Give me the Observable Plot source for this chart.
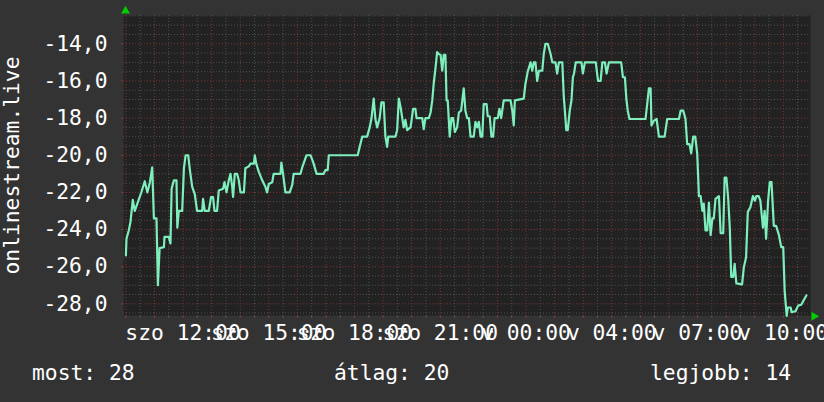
<!DOCTYPE html>
<html><head><meta charset="utf-8">
<script src="https://cdn.jsdelivr.net/npm/d3@7"></script>
<script src="https://cdn.jsdelivr.net/npm/@observablehq/plot@0.6"></script>
<style>
html,body{margin:0;padding:0;background:#333;overflow:hidden;}
#wrap{position:relative;width:824px;height:402px;background:#333;font-family:"DejaVu Sans Mono",monospace;color:#fff;}
.leg{position:absolute;top:362px;font-size:21.3px;line-height:21px;white-space:pre;}
</style></head><body><div id="wrap"></div>
<script>
// hours after Saturday 10:00
const hours = [0.00,0.02,0.10,0.16,0.24,0.31,0.40,0.54,0.66,0.75,0.84,0.92,0.98,1.07,1.12,1.18,1.33,1.35,1.50,1.56,
1.60,1.68,1.77,1.80,1.85,1.97,2.03,2.09,2.18,2.24,2.32,2.41,2.49,2.67,2.70,2.76,2.90,2.98,3.05,3.10,
3.19,3.25,3.40,3.45,3.52,3.60,3.66,3.72,3.75,3.81,3.89,3.95,4.01,4.13,4.18,4.30,4.36,4.48,4.51,4.56,
4.65,4.77,4.88,4.94,5.00,5.12,5.17,5.41,5.44,5.50,5.58,5.73,5.82,5.87,6.11,6.17,6.32,6.46,6.57,6.67,
6.92,6.98,7.06,7.10,8.11,8.18,8.27,8.44,8.53,8.59,8.67,8.73,8.79,8.88,8.94,9.02,9.08,9.14,9.18,9.43,
9.49,9.55,9.61,9.67,9.72,9.78,9.84,9.96,10.05,10.13,10.17,10.37,10.42,10.48,10.60,10.66,10.72,10.77,10.83,10.89,
10.95,11.01,11.07,11.12,11.18,11.22,11.26,11.33,11.39,11.45,11.51,11.59,11.65,11.73,11.82,11.88,11.94,12.00,12.06,12.17,
12.23,12.29,12.35,12.41,12.47,12.52,12.62,12.66,12.73,12.79,12.85,12.90,13.01,13.07,13.13,13.22,13.46,13.52,13.57,13.61,
13.92,13.98,14.06,14.16,14.22,14.27,14.33,14.39,14.45,14.57,14.62,14.68,14.76,14.86,14.92,15.03,15.09,15.15,15.27,15.32,
15.41,15.46,15.53,15.59,15.64,15.68,15.74,15.94,15.99,16.06,16.44,16.52,16.61,16.67,16.76,16.82,16.90,17.33,17.39,17.46,
17.51,17.56,17.62,18.18,18.24,18.30,18.36,18.39,18.47,18.57,18.65,18.85,18.94,19.35,19.41,19.50,19.58,19.64,19.72,19.78,
19.85,19.92,19.99,20.05,20.11,20.17,20.22,20.28,20.34,20.40,20.46,20.52,20.57,20.63,20.75,20.81,20.90,20.95,21.01,21.07,
21.13,21.18,21.25,21.30,21.36,21.56,21.62,21.70,21.76,21.85,21.94,22.01,22.06,22.14,22.20,22.29,22.35,22.40,22.47,22.53,
22.59,22.67,22.75,22.85,22.93,23.00,23.05,23.12,23.16,23.26,23.29,23.43,23.52,23.63,23.72,23.81];
const values = [-25.4,-24.5,-24.05,-23.6,-22.4,-23.0,-22.6,-22.0,-21.4,-22.0,-21.45,-20.65,-23.4,-23.4,-27.0,-25.0,-24.95,-24.4,-24.4,-24.75,
-21.8,-21.35,-21.35,-23.9,-23.0,-23.0,-20.7,-20.0,-20.0,-20.8,-21.7,-22.1,-23.0,-23.0,-22.35,-23.0,-23.0,-22.25,-22.25,-23.0,
-23.0,-21.9,-21.8,-21.45,-22.0,-21.35,-21.0,-21.7,-22.25,-21.0,-21.0,-21.35,-22.0,-22.0,-20.7,-20.6,-20.45,-20.45,-20.0,-20.45,
-20.9,-21.35,-21.7,-22.0,-21.55,-21.45,-21.0,-21.0,-20.4,-21.0,-22.0,-22.0,-21.6,-21.0,-21.0,-20.65,-20.0,-20.0,-20.45,-21.0,
-21.0,-20.8,-20.8,-20.0,-20.0,-19.55,-19.0,-19.0,-18.5,-18.05,-16.95,-18.05,-18.5,-18.0,-17.15,-17.15,-19.0,-19.55,-19.0,-19.0,
-18.65,-16.95,-17.4,-18.0,-18.5,-18.1,-18.65,-18.5,-17.5,-17.5,-18.0,-18.0,-18.6,-18.0,-18.0,-17.7,-17.05,-16.15,-15.35,-14.45,
-14.55,-14.6,-15.45,-14.6,-14.6,-17.05,-17.05,-19.0,-18.0,-18.0,-18.75,-18.5,-17.7,-17.6,-16.4,-17.6,-18.0,-18.0,-19.0,-19.0,
-18.2,-18.5,-18.2,-19.0,-19.0,-17.25,-17.25,-17.9,-17.9,-19.0,-19.0,-18.0,-18.0,-17.5,-18.0,-17.05,-17.05,-17.6,-18.4,-17.05,
-16.95,-16.15,-15.5,-15.0,-15.45,-15.0,-15.0,-16.0,-15.45,-15.45,-14.55,-14.0,-14.0,-14.55,-15.0,-15.0,-15.6,-15.0,-15.0,-16.8,
-18.65,-18.65,-17.6,-17.05,-15.8,-15.6,-15.0,-15.0,-15.6,-15.0,-15.0,-16.0,-16.0,-15.0,-15.0,-15.6,-15.0,-15.0,-15.8,-15.8,
-16.95,-17.6,-18.05,-18.05,-17.25,-16.4,-16.4,-18.4,-18.15,-18.05,-19.0,-19.0,-18.05,-18.05,-17.6,-17.6,-18.05,-19.4,-19.4,-19.9,
-19.0,-19.0,-19.9,-22.2,-22.2,-23.0,-22.6,-24.05,-24.05,-22.55,-24.3,-23.4,-23.4,-22.35,-22.2,-24.2,-24.2,-21.2,-21.2,-22.25,
-23.9,-26.55,-26.55,-25.85,-26.9,-26.95,-26.05,-25.5,-23.05,-22.8,-22.2,-22.45,-22.2,-22.2,-22.45,-23.9,-23.0,-24.5,-22.45,-21.45,
-21.45,-23.8,-23.8,-24.3,-24.95,-24.95,-27.3,-28.65,-28.2,-28.2,-28.45,-28.4,-28.1,-28.05,-27.8,-27.55];
const tickHours = [2, 5, 8, 11, 14, 17, 20, 23];
const tickLabels = ["szo 12:00", "szo 15:00", "szo 18:00", "szo 21:00", "v 00:00", "v 04:00", "v 07:00", "v 10:00"];
const yTicks = [-28, -26, -24, -22, -20, -18, -16, -14];
const yTitle = "onlinestream.live";
const legendTexts = ["most: 28", "átlag: 20", "legjobb: 14"];

const data = hours.map((h, i) => ({h, v: values[i]}));
const majorY = d3.range(-28, -12, 2);
const minorY = d3.range(-28.5, -12.4, 0.5).filter(v => !majorY.includes(v));
const majorX = d3.range(0, 24, 1);
const minorX = d3.range(0.5, 24, 1);
const FONT = "DejaVu Sans Mono";
const gridGray = "#505050", gridRed = "#7c3434";

const chart = Plot.plot({
  width: 824, height: 355,
  marginLeft: 123, marginRight: 14, marginTop: 15, marginBottom: 40,
  style: {background: "#333", color: "#fff", fontFamily: FONT, fontSize: "21px", overflow: "visible"},
  x: {domain: [-0.084, 23.954]},
  y: {domain: [-28.63, -12.476]},
  marks: [
    Plot.frame({fill: "#222", stroke: null}),
    Plot.ruleY(minorY, {stroke: gridGray, strokeDasharray: "1,2"}),
    Plot.ruleX(minorX, {stroke: gridGray, strokeDasharray: "1,2"}),
    Plot.ruleY(majorY, {stroke: gridRed, strokeDasharray: "1,2"}),
    Plot.ruleX(majorX, {stroke: gridRed, strokeDasharray: "1,2"}),
    Plot.axisY(yTicks, {tickSize: 2, stroke: "#8a3a3a", tickPadding: 14, fill: "#fff", fontSize: 21.3,
      tickFormat: d => d.toFixed(1).replace(".", ","), label: null}),
    Plot.axisX(minorX, {tickSize: 3, stroke: "#555", tickFormat: () => "", label: null}),
    Plot.axisX(majorX, {tickSize: 3, stroke: "#8a3a3a", tickFormat: () => "", label: null}),
    Plot.axisX(tickHours, {tickSize: 0, tickPadding: 9, fill: "#fff", fontSize: 21.3,
      tickFormat: d => tickLabels[tickHours.indexOf(d)], label: null}),
    Plot.line(data, {x: "h", y: "v", stroke: "#7deebc", strokeWidth: 2.2}),
    Plot.text([yTitle], {frameAnchor: "left", dx: -104.5, rotate: -90, lineAnchor: "bottom", textAnchor: "middle",
      text: d => d, fill: "#fff", fontSize: 21.3, fontFamily: FONT}),
    Plot.dot([0], {frameAnchor: "top-left", dx: 2, dy: -4.5, symbol: "triangle", r: 3.3, fill: "#00cc00", stroke: null}),
    Plot.dot([0], {frameAnchor: "bottom-right", dx: 3.5, dy: 0.8, symbol: "triangle", r: 3.3, fill: "#00cc00", stroke: null, rotate: 90})
  ]
});
const wrap = document.getElementById("wrap");
wrap.appendChild(chart);
const legLeft = [32, 334, 650];
legendTexts.forEach((t, i) => {
  const s = document.createElement("span");
  s.className = "leg";
  s.style.left = legLeft[i] + "px";
  s.textContent = t;
  wrap.appendChild(s);
});
</script>
</body></html>
